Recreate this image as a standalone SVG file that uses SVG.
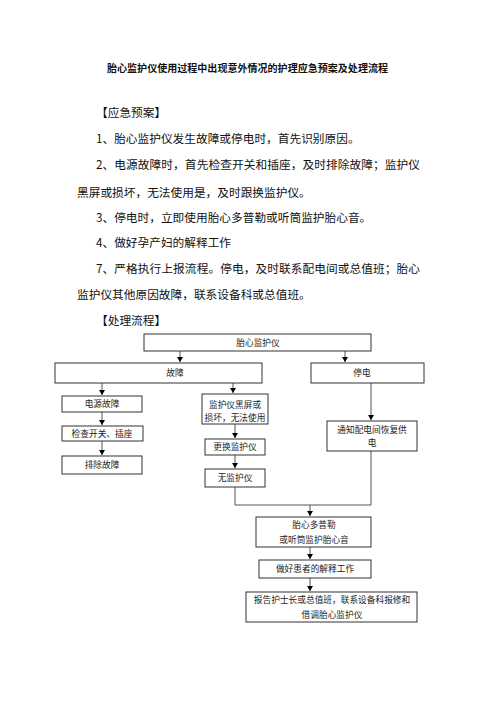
<svg xmlns="http://www.w3.org/2000/svg" width="496" height="702" viewBox="0 0 496 702">
<style>
.t{font-family:"Noto Sans CJK SC","Noto Sans",sans-serif;fill:#111}
.title{font-size:10px;font-weight:bold}
.body{font-size:11.7px}
.f{font-size:8.7px;text-anchor:middle;fill:#222}
.box{fill:#fff;stroke:#333;stroke-width:1}
.c{fill:none;stroke:#555;stroke-width:1}
</style>
<defs>
<marker id="ah" markerWidth="5" markerHeight="6" refX="2.5" refY="6" orient="auto-start-reverse" markerUnits="userSpaceOnUse" viewBox="0 0 5 6">
<path d="M0,0 L5,0 L2.5,6 Z" fill="#000" transform="rotate(-90 2.5 3)"/>
</marker>
<marker id="a" markerWidth="5" markerHeight="6" refX="5" refY="3" orient="auto" markerUnits="userSpaceOnUse" viewBox="0 0 5 6">
<path d="M0,0 L5,3 L0,6 Z" fill="#000"/>
</marker>
</defs>
<rect width="496" height="702" fill="#fff"/>
<g id="text">
<text class="t title" x="107" y="72" textLength="281" lengthAdjust="spacingAndGlyphs">胎心监护仪使用过程中出现意外情况的护理应急预案及处理流程</text>
<text class="t body" x="96" y="116.5">【应急预案】</text>
<text class="t body" x="96" y="142.5">1、胎心监护仪发生故障或停电时，首先识别原因。</text>
<text class="t body" x="96" y="168.5" textLength="324" lengthAdjust="spacing">2、电源故障时，首先检查开关和插座，及时排除故障；监护仪</text>
<text class="t body" x="77" y="196.5">黑屏或损坏，无法使用是，及时跟换监护仪。</text>
<text class="t body" x="96" y="221.5">3、停电时，立即使用胎心多普勒或听筒监护胎心音。</text>
<text class="t body" x="96" y="246.5">4、做好孕产妇的解释工作</text>
<text class="t body" x="96" y="272.5" textLength="324" lengthAdjust="spacing">7、严格执行上报流程。停电，及时联系配电间或总值班；胎心</text>
<text class="t body" x="77" y="298.5">监护仪其他原因故障，联系设备科或总值班。</text>
<text class="t body" x="96" y="324.5">【处理流程】</text>
</g>
<g id="connectors">
<path class="c" d="M180 351 V362" marker-end="url(#a)"/>
<path class="c" d="M345 351 V362" marker-end="url(#a)"/>
<path class="c" d="M102 383 V395" marker-end="url(#a)"/>
<path class="c" d="M233 383 V393" marker-end="url(#a)"/>
<path class="c" d="M371 383 V420" marker-end="url(#a)"/>
<path class="c" d="M102 412 V425" marker-end="url(#a)"/>
<path class="c" d="M102 441 V455" marker-end="url(#a)"/>
<path class="c" d="M235 424 V438" marker-end="url(#a)"/>
<path class="c" d="M235 455 V468" marker-end="url(#a)"/>
<path class="c" d="M235 487 V505 H371 V451"/>
<path class="c" d="M310 505 V516" marker-end="url(#a)"/>
<path class="c" d="M310 547 V559" marker-end="url(#a)"/>
<path class="c" d="M310 578 V591" marker-end="url(#a)"/>
</g>
<g id="n-monitor"><rect class="box" x="144" y="334" width="227" height="17"/><text class="t f" x="258" y="345.8">胎心监护仪</text></g>
<g id="n-fault"><rect class="box" x="55" y="363" width="207" height="20"/><text class="t f" x="175" y="376.3">故障</text></g>
<g id="n-outage"><rect class="box" x="311" y="363" width="113" height="20"/><text class="t f" x="362" y="376.3">停电</text></g>
<g id="n-power"><rect class="box" x="62" y="396" width="80" height="16"/><text class="t f" x="102" y="407.3">电源故障</text></g>
<g id="n-check"><rect class="box" x="62" y="426" width="81" height="15"/><text class="t f" x="102" y="436.8">检查开关、插座</text></g>
<g id="n-clear"><rect class="box" x="62" y="456" width="80" height="18"/><text class="t f" x="102" y="468.3">排除故障</text></g>
<g id="n-black"><rect class="box" x="202" y="394" width="66" height="30"/><text class="t f" x="235" y="408.3">监护仪黑屏或</text><text class="t f" x="235" y="421.3">损坏，无法使用</text></g>
<g id="n-replace"><rect class="box" x="205" y="439" width="60" height="16"/><text class="t f" x="235" y="450.3">更换监护仪</text></g>
<g id="n-none"><rect class="box" x="205" y="469" width="60" height="18"/><text class="t f" x="235" y="481.3">无监护仪</text></g>
<g id="n-notify"><rect class="box" x="327" y="421" width="90" height="30"/><text class="t f" x="372" y="433.3">通知配电间恢复供</text><text class="t f" x="372" y="446.3">电</text></g>
<g id="n-doppler"><rect class="box" x="256" y="517" width="115" height="30"/><text class="t f" x="314" y="528.3">胎心多普勒</text><text class="t f" x="314" y="543.3">或听筒监护胎心音</text></g>
<g id="n-explain"><rect class="box" x="259" y="560" width="112" height="18"/><text class="t f" x="315" y="572.3">做好患者的解释工作</text></g>
<g id="n-report"><rect class="box" x="246" y="592" width="171" height="30"/><text class="t f" x="332" y="603.3">报告护士长或总值班，联系设备科报修和</text><text class="t f" x="332" y="618.3">借调胎心监护仪</text></g>
</svg>
